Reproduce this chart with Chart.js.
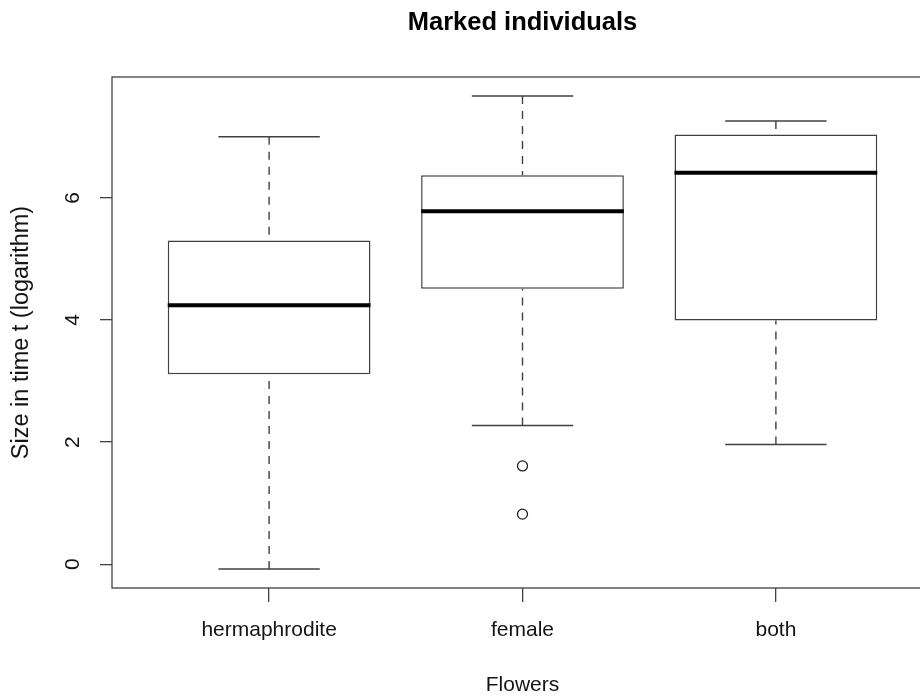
<!DOCTYPE html>
<html>
<head>
<meta charset="utf-8">
<title>Marked individuals</title>
<script src="https://cdn.jsdelivr.net/npm/chart.js@4/dist/chart.umd.min.js"></script>
<style>
  html, body { margin: 0; padding: 0; background: #fff; overflow: hidden; }
  canvas { display: block; }
</style>
</head>
<body>
<canvas id="chart" width="940" height="697"></canvas>
<script>
// Five-number summaries per flower type (log size at time t)
const categories = ['hermaphrodite', 'female', 'both'];
const lowerWhisker = [-0.08, 2.27, 1.96];
const lowerQuartile = [3.11, 4.51, 3.99];
const medians = [4.24, 5.78, 6.41];
const upperQuartile = [5.30, 6.37, 7.04];
const upperWhisker = [7.00, 7.67, 7.26];
// Points beyond the whiskers: group number (1-based) and value
const outlierGroup = [2, 2];
const outlierValues = [1.61, 0.82];
const yTickValues = [0, 2, 4, 6];

const FONT = "'Liberation Sans', Arial, Helvetica, sans-serif";
const INK = '#404040';
const TEXT = '#141414';
const BOX_WIDTH = 0.8;     // box width in group units
const STAPLE_WIDTH = 0.4;  // whisker cap width in group units

const positions = categories.map((_, i) => i + 1);

// Axis limits: data range widened by 4% on each side
const xLo = 0.5, xHi = categories.length + 0.5;
const xPad = 0.04 * (xHi - xLo);
const allValues = [...lowerWhisker, ...upperWhisker, ...outlierValues];
const yLo = Math.min(...allValues), yHi = Math.max(...allValues);
const yPad = 0.04 * (yHi - yLo);

// Half of a width given in group units, in pixels
function halfWidthPx(chart, units) {
  const x = chart.scales.x;
  return Math.abs(x.getPixelForValue(1 + units / 2) - x.getPixelForValue(1));
}

// Dashed whiskers: from each whisker end back to the box
const whiskerPoints = [];
positions.forEach((p, i) => {
  whiskerPoints.push({ x: p, y: upperWhisker[i] }, { x: p, y: upperQuartile[i] }, { x: p, y: null });
  whiskerPoints.push({ x: p, y: lowerWhisker[i] }, { x: p, y: lowerQuartile[i] }, { x: p, y: null });
});

const capPoints = [];
positions.forEach((p, i) => {
  capPoints.push({ x: p, y: upperWhisker[i] }, { x: p, y: lowerWhisker[i] });
});

// Frame around the plotting region
const framePlugin = {
  id: 'frame',
  afterDatasetsDraw(chart) {
    const { ctx, chartArea: a } = chart;
    ctx.save();
    ctx.strokeStyle = INK;
    ctx.lineWidth = 1.3;
    ctx.strokeRect(a.left, a.top, a.right - a.left, a.bottom - a.top);
    ctx.restore();
  }
};

new Chart(document.getElementById('chart'), {
  type: 'bar',
  data: {
    datasets: [
      {
        type: 'bar',
        label: 'Interquartile range',
        data: positions.map((p, i) => ({ x: p, y: [lowerQuartile[i], upperQuartile[i]] })),
        backgroundColor: '#ffffff',
        borderColor: INK,
        borderWidth: 1.5,
        borderSkipped: false,
        barPercentage: BOX_WIDTH,
        categoryPercentage: 1,
        order: 4
      },
      {
        type: 'line',
        label: 'Whiskers',
        data: whiskerPoints,
        borderColor: INK,
        borderWidth: 1.4,
        borderDash: [8, 7],
        pointRadius: 0,
        spanGaps: false,
        fill: false,
        order: 3
      },
      {
        type: 'scatter',
        label: 'Whisker caps',
        data: capPoints,
        pointStyle: 'line',
        pointRadius: ctx => halfWidthPx(ctx.chart, STAPLE_WIDTH),
        pointBorderWidth: 1.5,
        pointBorderColor: INK,
        order: 2
      },
      {
        type: 'scatter',
        label: 'Median',
        data: positions.map((p, i) => ({ x: p, y: medians[i] })),
        pointStyle: 'line',
        pointRadius: ctx => halfWidthPx(ctx.chart, BOX_WIDTH),
        pointBorderWidth: 4,
        pointBorderColor: '#000000',
        order: 1
      },
      {
        type: 'scatter',
        label: 'Outliers',
        data: outlierValues.map((v, k) => ({ x: outlierGroup[k], y: v })),
        pointStyle: 'circle',
        pointRadius: 5,
        pointBorderWidth: 1.3,
        pointBorderColor: '#202020',
        pointBackgroundColor: 'rgba(255,255,255,0)',
        order: 0
      }
    ]
  },
  options: {
    responsive: false,
    devicePixelRatio: 1,
    animation: false,
    events: [],
    layout: { padding: { left: 0, right: 7, top: 0, bottom: 0 } },
    plugins: {
      legend: { display: false },
      tooltip: { enabled: false },
      title: {
        display: true,
        text: 'Marked individuals',
        fullSize: false,
        color: '#000000',
        font: { family: FONT, size: 25.5, weight: 'bold', lineHeight: 1.2 },
        padding: { top: 7.9, bottom: 38.5 }
      }
    },
    scales: {
      x: {
        type: 'linear',
        offset: false,
        min: xLo - xPad,
        max: xHi + xPad,
        afterBuildTicks: s => { s.ticks = positions.map(v => ({ value: v })); },
        afterFit: s => { s.height = 109; },
        ticks: {
          callback: (v, i) => categories[i],
          autoSkip: false,
          minRotation: 0,
          maxRotation: 0,
          padding: 16,
          color: TEXT,
          font: { family: FONT, size: 21 }
        },
        grid: { offset: false, drawOnChartArea: false, drawTicks: true, tickLength: 14, color: INK, lineWidth: 1.3 },
        border: { display: false },
        title: {
          display: true,
          text: 'Flowers',
          color: TEXT,
          font: { family: FONT, size: 21, lineHeight: 1 },
          padding: { top: 0, bottom: 0.8 }
        }
      },
      y: {
        type: 'linear',
        min: yLo - yPad,
        max: yHi + yPad,
        afterBuildTicks: s => { s.ticks = yTickValues.map(v => ({ value: v })); },
        afterFit: s => { s.width = 112; },
        ticks: {
          callback: v => String(v),
          minRotation: 90,
          maxRotation: 90,
          crossAlign: 'center',
          padding: 21,
          color: TEXT,
          font: { family: FONT, size: 21 }
        },
        grid: { drawOnChartArea: false, drawTicks: true, tickLength: 12, color: INK, lineWidth: 1.3 },
        border: { display: false },
        title: {
          display: true,
          text: 'Size in time t (logarithm)',
          color: TEXT,
          font: { family: FONT, size: 23.5, lineHeight: 1 },
          padding: { top: 9.6, bottom: 0 }
        }
      }
    }
  },
  plugins: [framePlugin]
});
</script>
</body>
</html>
